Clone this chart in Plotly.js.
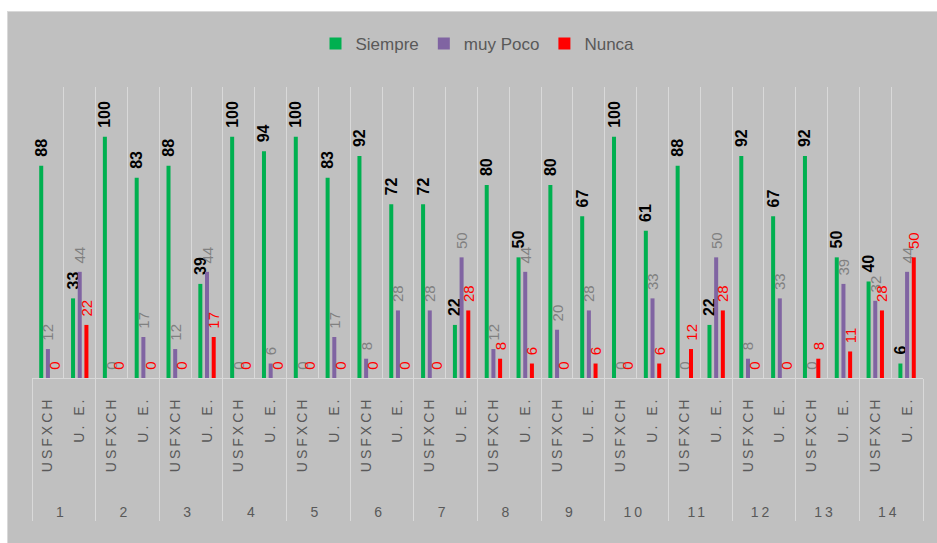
<!DOCTYPE html>
<html>
<head>
<meta charset="utf-8">
<script src="https://cdn.plot.ly/plotly-3.0.1.min.js"></script>
<style>
html,body{margin:0;padding:0;background:#ffffff;}
#wrap{position:absolute;left:7px;top:11px;width:929px;height:531px;border-left:1px solid #d9d9d9;border-top:1px solid #d9d9d9;background:#c0c0c0;}
#chart{width:929px;height:531px;}
.xaxislayer-above text{letter-spacing:3px;}
</style>
</head>
<body>
<div id="wrap"><div id="chart"></div></div>
<script>
// Data
const groups = ['1','2','3','4','5','6','7','8','9','10','11','12','13','14'];
const subcats = ['USFXCH','U. E.'];
const siempre = [88,33, 100,83, 88,39, 100,94, 100,83, 92,72, 72,22, 80,50, 80,67, 100,61, 88,22, 92,67, 92,50, 40,6];
const muyPoco = [12,44, 0,17, 12,44, 0,6, 0,17, 8,28, 28,50, 12,44, 20,28, 0,33, 0,50, 8,33, 0,39, 32,44];
const nunca   = [0,22, 0,0, 0,17, 0,0, 0,0, 0,0, 0,28, 8,6, 0,6, 0,6, 12,28, 0,0, 8,11, 28,50];

const NB = '\u00a0';
const outer = [], inner = [];
// blank leading lines and a little padding push the group row down, as in the reference
groups.forEach(g => subcats.forEach(s => {
  outer.push('<br><br>' + g);
  inner.push(s.length > 5 ? NB.repeat(3) + s : s);
}));
const x = [outer, inner];

const font = 'Liberation Sans, Arial, sans-serif';
function mk(name, vals, color, tcolor, weight, size){
  return {
    type:'bar', name:name, x:x, y:vals, marker:{color:color},
    text: vals.map(v => NB + NB + v), textposition:'outside', textangle:-90,
    textfont:{family:font, size:size, color:tcolor, weight:weight},
    constraintext:'none', cliponaxis:false, hoverinfo:'skip'
  };
}
const data = [
  mk('Siempre', siempre, '#00b050', '#000000', 'bold', 16),
  mk('muy Poco', muyPoco, '#8064a2', '#808080', 'normal', 15),
  mk('Nunca', nunca, '#ff0000', '#ff0000', 'normal', 15)
];
const layout = {
  width:929, height:531,
  margin:{l:24, r:14, t:75, b:165},
  paper_bgcolor:'#c0c0c0', plot_bgcolor:'#c0c0c0',
  barmode:'group', bargap:0.37, bargroupgap:0.4,
  showlegend:true,
  legend:{orientation:'h', x:0.5, xanchor:'center', y:1.148, yanchor:'middle',
          font:{family:font, size:17, color:'#595959'}, itemwidth:30, traceorder:'normal'},
  xaxis:{type:'multicategory', tickson:'boundaries', showgrid:true, gridcolor:'#d9d9d9', gridwidth:1,
         showline:true, linecolor:'#d9d9d9', linewidth:1, ticks:'', tickangle:-90,
         ticklabelstandoff:12,
         tickfont:{family:font, size:14, color:'#595959'},
         showdividers:true, dividercolor:'#d9d9d9', dividerwidth:1, zeroline:false},
  yaxis:{range:[0,120.6], showgrid:false, showticklabels:false, zeroline:false, showline:false, ticks:''},
  font:{family:font}
};
Plotly.newPlot('chart', data, layout, {displayModeBar:false, staticPlot:true});
</script>
</body>
</html>
